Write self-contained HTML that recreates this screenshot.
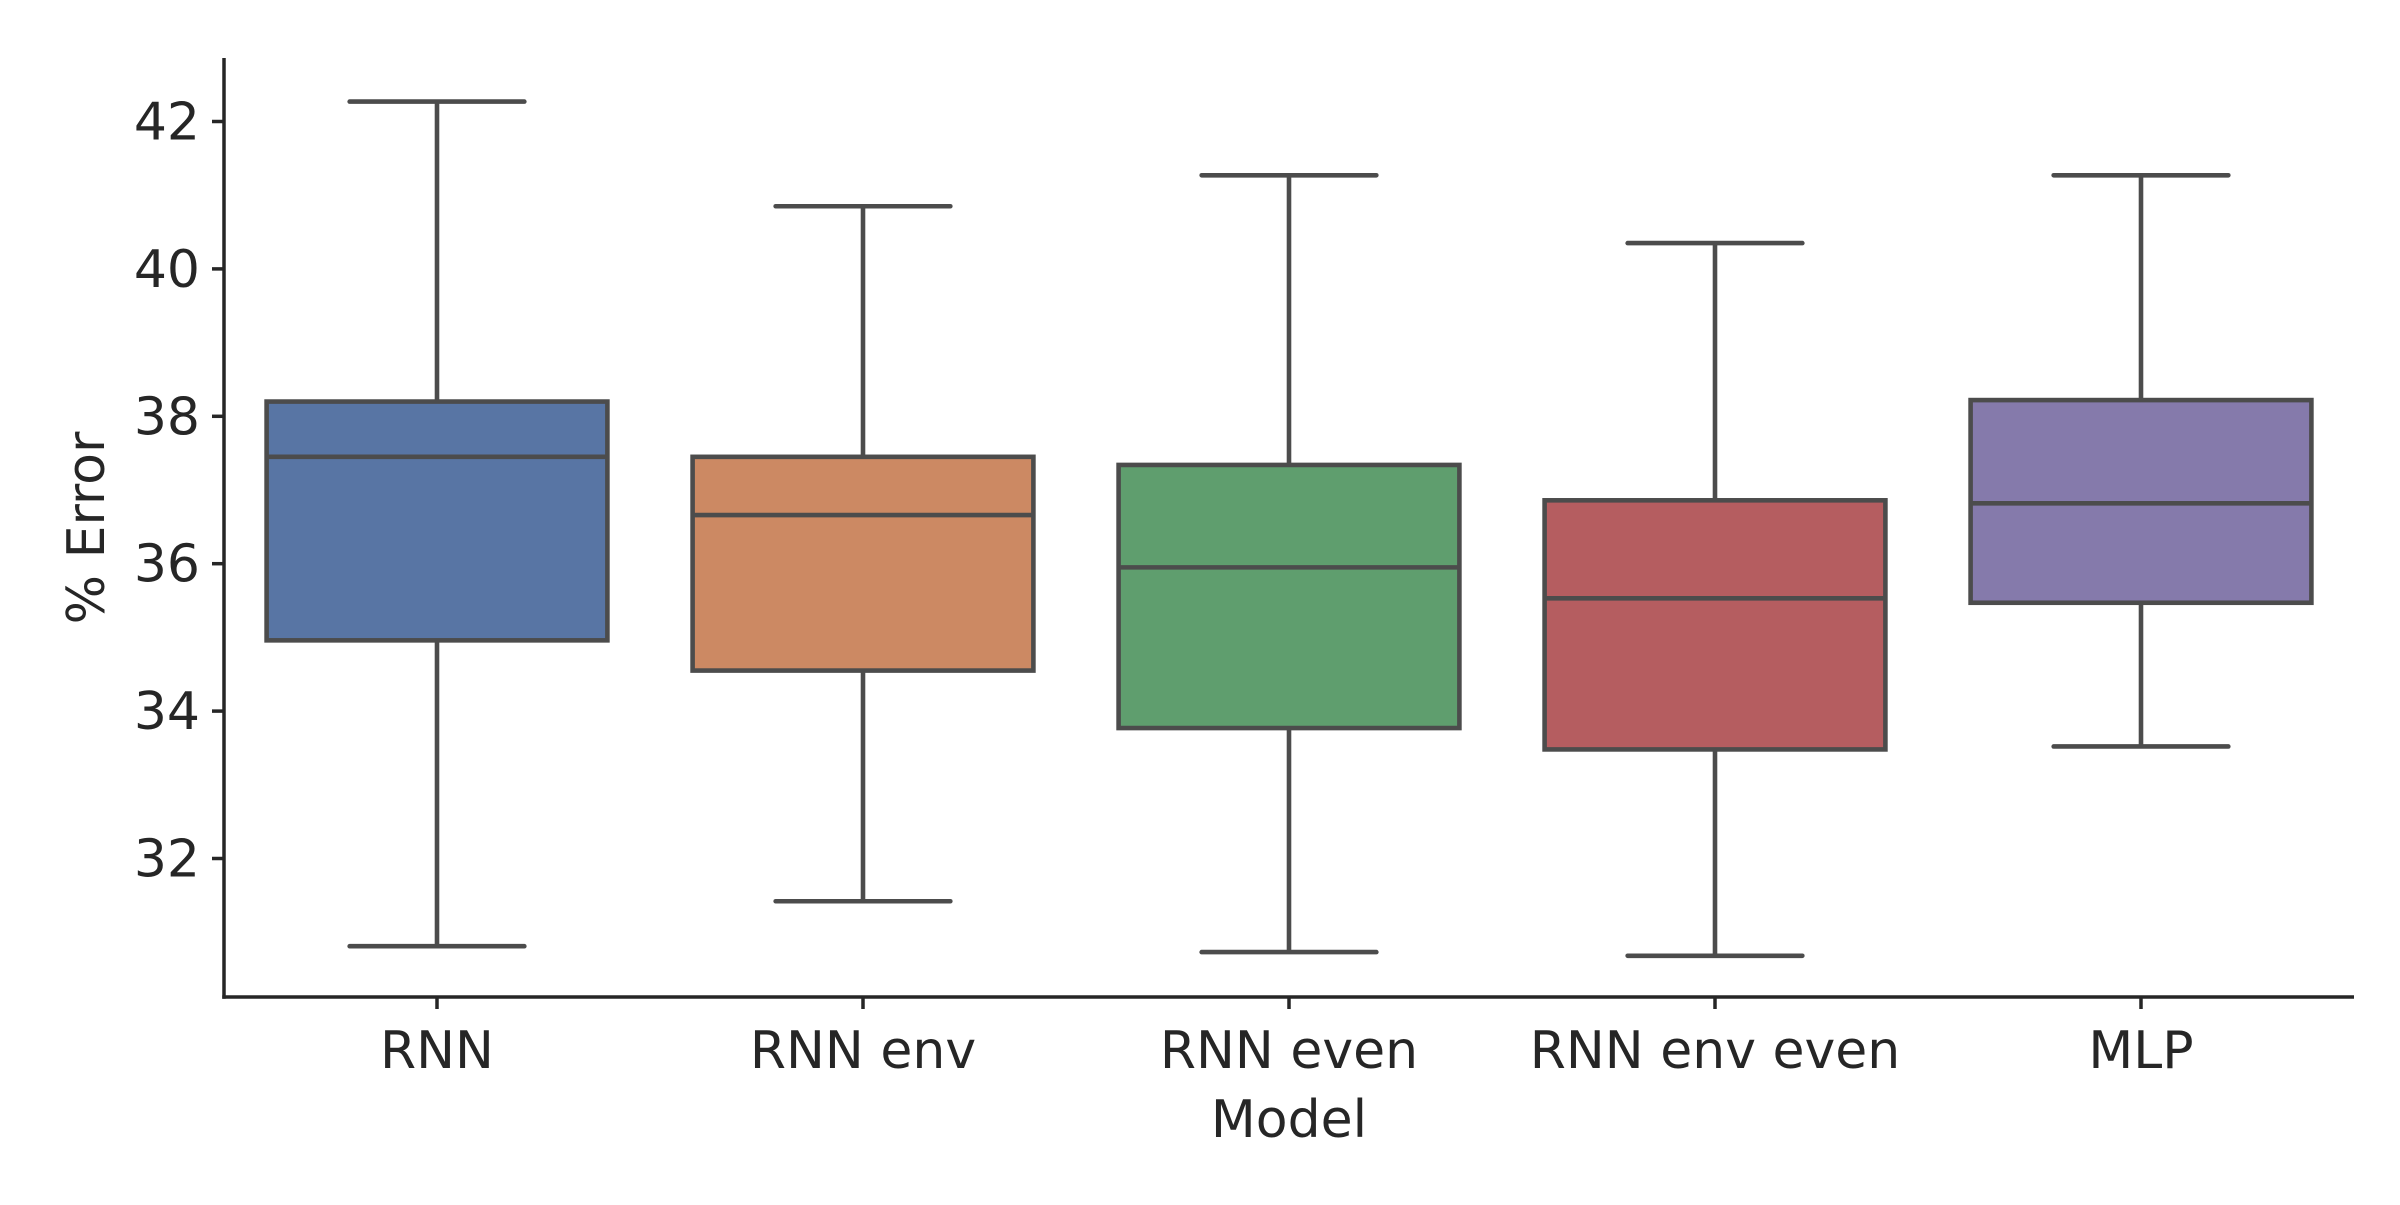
<!DOCTYPE html>
<html><head><meta charset="utf-8"><style>
html,body{margin:0;padding:0;background:#fff;}
svg text{font-family:"DejaVu Sans","Liberation Sans",sans-serif;fill:#262626;}
</style></head><body>
<svg id="chart" width="2400" height="1200" viewBox="0 0 2400 1200" xmlns="http://www.w3.org/2000/svg">
<g id="boxes"></g>
<g id="axes"></g>
</svg>
<script>
const categories = ["RNN","RNN env","RNN even","RNN env even","MLP"];
const whiskerLow = [30.81,31.42,30.73,30.68,33.52];
const q1 = [34.96,34.55,33.77,33.48,35.47];
const median = [37.45,36.66,35.95,35.53,36.82];
const q3 = [38.2,37.45,37.34,36.86,38.22];
const whiskerHigh = [42.27,40.85,41.27,40.35,41.27];
const yTicks = [32,34,36,38,40,42];
const colors = ["#5875a4","#cc8963","#5f9e6e","#b55d60","#857aab"];

const NS="http://www.w3.org/2000/svg";
const X0=224, X1=2354, YB=997, YT=58;
const step=(X1-X0)/categories.length;
function xPos(i){return X0+step*(i+0.5);}
function yPos(v){return 858.5-(v-32)*73.7;}
function mk(tag,attrs,parent){const e=document.createElementNS(NS,tag);for(const k in attrs)e.setAttribute(k,attrs[k]);parent.appendChild(e);return e;}
const boxes=document.getElementById('boxes'), axes=document.getElementById('axes');
const LC="#4c4c4c", LW=4.6, bw=step*0.8, cw=step*0.41, FS=52;
categories.forEach((c,i)=>{
  const g=mk('g',{},boxes);
  
  
  const cx=xPos(i);
  const w1=mk('line',{x1:cx,x2:cx,y1:yPos(q1[i]),y2:yPos(whiskerLow[i]),stroke:LC,'stroke-width':LW},g);
  
  
  const w2=mk('line',{x1:cx,x2:cx,y1:yPos(q3[i]),y2:yPos(whiskerHigh[i]),stroke:LC,'stroke-width':LW},g);
  
  
  const c1=mk('line',{x1:cx-cw/2,x2:cx+cw/2,y1:yPos(whiskerLow[i]),y2:yPos(whiskerLow[i]),stroke:LC,'stroke-width':LW,'stroke-linecap':'round'},g);
  
  
  const c2=mk('line',{x1:cx-cw/2,x2:cx+cw/2,y1:yPos(whiskerHigh[i]),y2:yPos(whiskerHigh[i]),stroke:LC,'stroke-width':LW,'stroke-linecap':'round'},g);
  
  
  const r=mk('rect',{x:cx-bw/2,y:yPos(q3[i]),width:bw,height:yPos(q1[i])-yPos(q3[i]),fill:colors[i],stroke:LC,'stroke-width':LW},g);
  
  
  const m=mk('line',{x1:cx-bw/2,x2:cx+bw/2,y1:yPos(median[i]),y2:yPos(median[i]),stroke:LC,'stroke-width':LW},g);
  
  
  const t=mk('line',{x1:cx,x2:cx,y1:YB,y2:YB+12,stroke:'#262626','stroke-width':3.5},axes);
  
  
  const tl=mk('text',{x:cx,y:1068,'text-anchor':'middle','font-size':FS},axes);
  tl.textContent=c;
  
  
});
yTicks.forEach(v=>{
  const t=mk('line',{x1:X0-12,x2:X0,y1:yPos(v),y2:yPos(v),stroke:'#262626','stroke-width':3.5},axes);
  
  
  const tl=mk('text',{x:X0-24,y:yPos(v)+18,'text-anchor':'end','font-size':FS},axes);
  tl.textContent=v;
  
  
});
const ya=mk('line',{x1:X0,x2:X0,y1:YT,y2:YB+1.75,stroke:'#262626','stroke-width':3.5},axes);


const xa=mk('line',{x1:X0-1.75,x2:X1,y1:YB,y2:YB,stroke:'#262626','stroke-width':3.5},axes);


const xt=mk('text',{x:(X0+X1)/2,y:1137,'text-anchor':'middle','font-size':FS},axes);
xt.textContent='Model';


const yt=mk('text',{x:0,y:0,'text-anchor':'middle','font-size':FS,transform:'translate(104,528) rotate(-90)'},axes);
yt.textContent='% Error';


</script>
</body></html>
